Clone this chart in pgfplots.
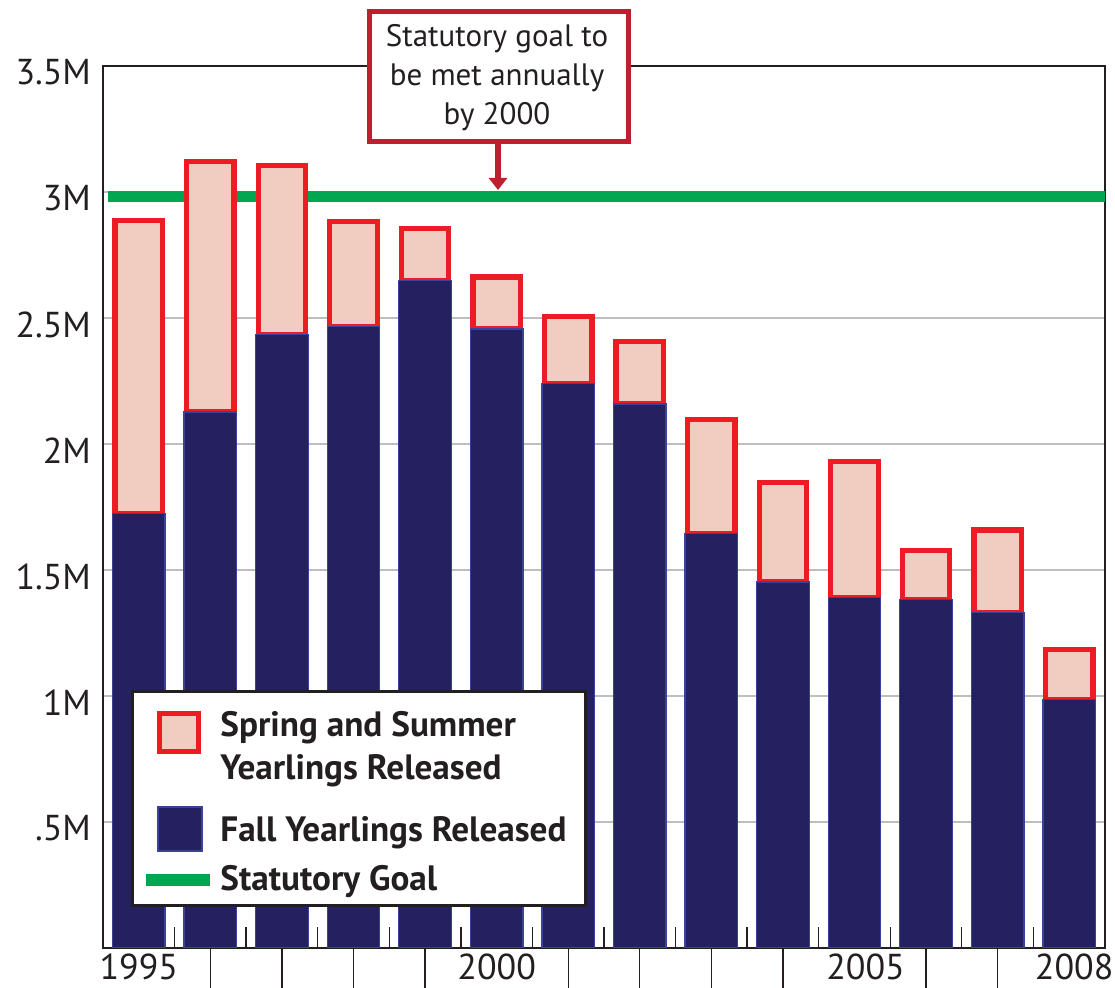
\documentclass[border=0pt]{standalone}
\usepackage{pgfplots}
\usepackage{pgfplotstable}
\pgfplotsset{compat=1.18}
\usetikzlibrary{arrows.meta}
\usepackage{fontspec}
\setmainfont{PT Sans}

\definecolor{fallnavy}{HTML}{252161}
\definecolor{falledge}{HTML}{3A4299}
\definecolor{springfill}{HTML}{F1CDC1}
\definecolor{springred}{HTML}{ED1C24}
\definecolor{goalgreen}{HTML}{00A651}
\definecolor{calloutred}{HTML}{BE1E2D}
\definecolor{ink}{HTML}{231F20}
\definecolor{gridgray}{HTML}{BCBEC0}

% yearlings released, millions
\pgfplotstableread{
year fall  spring
1995 1.724 1.164
1996 2.127 0.995
1997 2.435 0.670
1998 2.467 0.417
1999 2.648 0.208
2000 2.456 0.207
2001 2.241 0.266
2002 2.159 0.247
2003 1.644 0.453
2004 1.452 0.396
2005 1.392 0.538
2006 1.384 0.194
2007 1.331 0.328
2008 0.987 0.197
}\yearlings

\begin{document}
\begin{tikzpicture}
\begin{axis}[
  at={(51.5pt,-474pt)}, anchor=south west,
  scale only axis, width=501pt, height=441pt,
  xmin=1994.5, xmax=2008.5, ymin=0, ymax=3.5,
  axis line style={ink, line width=1.3pt},
  ybar stacked, bar width=0.734,
  ytick={0.5,1,1.5,2,2.5,3,3.5},
  yticklabels={.5M,1M,1.5M,2M,2.5M,3M,3.5M},
  ymajorgrids, major grid style={gridgray, line width=1.4pt},
  ytick style={draw=none},
  yticklabel style={font=\fontsize{18}{21}\selectfont, text=ink, xshift=-2.5pt, yshift=-3.3pt},
  xtick pos=bottom, xtick align=outside,
  xtick={1996,1997,1998,1999,2001,2002,2003,2004,2006,2007},
  xticklabels={},
  major tick length=20pt,
  x tick style={ink, line width=0.6pt},
  minor xtick={1995.5,1996.5,...,2007.5},
  minor tick length=10.5pt,
  minor x tick style={ink, line width=0.7pt, yshift=10.5pt},
  extra x ticks={1995,2000,2005,2008},
  extra x tick labels={1995,2000,\hspace*{11pt}2005,\hspace*{5pt}2008},
  extra x tick style={major tick length=0pt, x tick style={draw=none}},
  xticklabel style={font=\fontsize{18}{21}\selectfont, text=ink, yshift=0.5pt},
]
\addplot[fill=fallnavy, draw=falledge, line width=0.6pt]
  table[x=year, y=fall] {\yearlings};
\addplot[fill=springfill, draw=springred, line width=2.6pt, bar width=0.662]
  table[x=year, y=spring] {\yearlings};
\addplot[goalgreen, line width=5.5pt, stack plots=false, sharp plot]
  coordinates {(1994.57,2.983) (2008.5,2.983)};
\end{axis}

% callout and legend, in pixels of the reference
\begin{scope}[x=0.5pt, y=-0.5pt]
  \draw[calloutred, line width=2.5pt, fill=white] (369.5,11.5) rectangle (628.5,141.5);
  \node[align=center, text=ink, font=\fontsize{15.5}{19.5}\selectfont] at (497,78)
    {Statutory goal to\\be met annually\\by 2000};
  \draw[calloutred, line width=3pt, -{Triangle[width=9pt,length=6pt]}] (498,143) -- (498,190);

  \draw[ink, line width=1.5pt, fill=white] (132.5,691.5) rectangle (585.5,905.5);
  \draw[springred, fill=springfill, line width=2.5pt] (159.5,713.5) rectangle (198.5,751.5);
  \draw[falledge, fill=fallnavy, line width=1pt] (158,807) rectangle (202,851);
  \draw[goalgreen, line width=6pt] (146,880.5) -- (210,880.5);
  \begin{scope}[every node/.style={anchor=base west, text=ink, font=\fontsize{17.6}{21}\selectfont\bfseries, inner sep=0pt}]
    \node at (220,737) {Spring and Summer};
    \node at (220,780) {Yearlings Released};
    \node at (220,842) {Fall Yearlings Released};
    \node at (220,891) {Statutory Goal};
  \end{scope}
\end{scope}

\pgfresetboundingbox
\path (0pt,0pt) rectangle (557.5pt,-494pt);
\end{tikzpicture}
\end{document}
